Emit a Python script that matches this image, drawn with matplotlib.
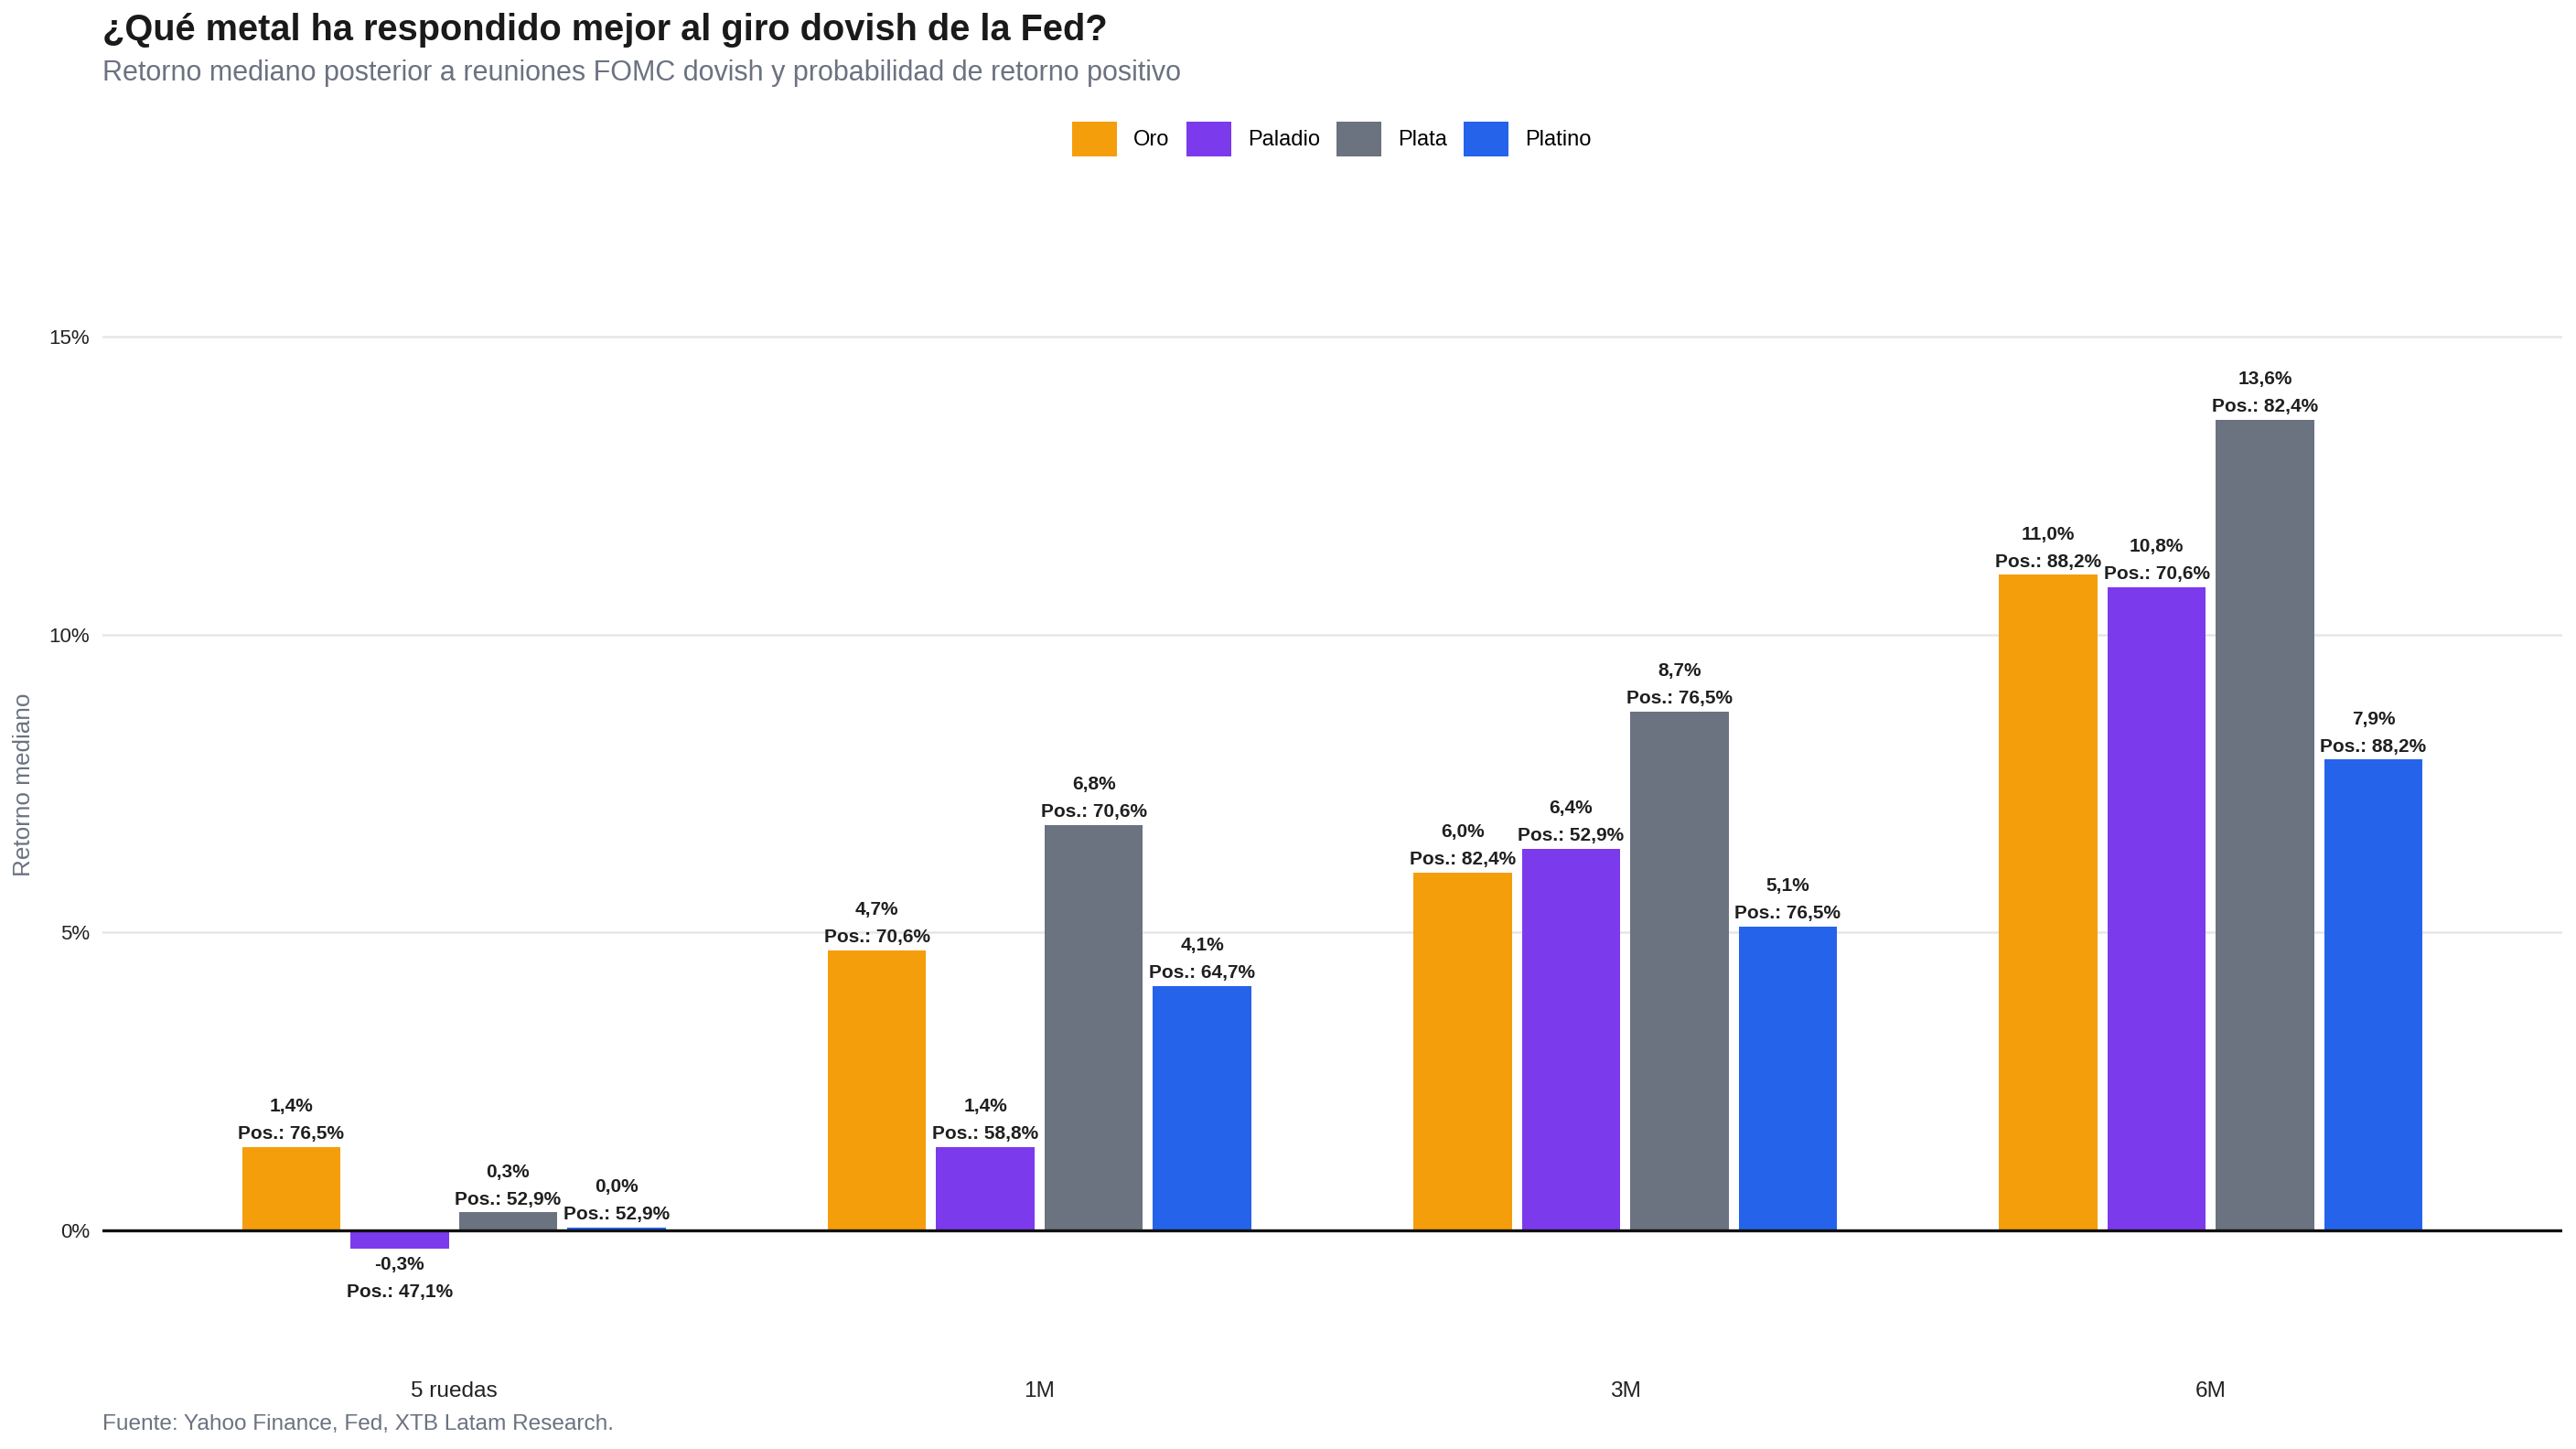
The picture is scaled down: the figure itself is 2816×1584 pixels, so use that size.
import numpy as np
import matplotlib.pyplot as plt

plt.rcParams['font.family'] = ['Liberation Sans', 'DejaVu Sans']

# data
horizons = ["5 ruedas", "1M", "3M", "6M"]
metals = ["Oro", "Paladio", "Plata", "Platino"]
colors = ["#F59E0B", "#7C3AED", "#6B7280", "#2563EB"]

oro = [1.4, 4.7, 6.0, 11.0]
paladio = [-0.3, 1.4, 6.4, 10.8]
plata = [0.3, 6.8, 8.7, 13.6]
platino = [0.04, 4.1, 5.1, 7.9]

oro_pos = [76.5, 70.6, 82.4, 88.2]
paladio_pos = [47.1, 58.8, 52.9, 70.6]
plata_pos = [52.9, 70.6, 76.5, 82.4]
platino_pos = [52.9, 64.7, 76.5, 88.2]

returns = [oro, paladio, plata, platino]
positives = [oro_pos, paladio_pos, plata_pos, platino_pos]

def pct(v):
    return f"{v:.1f}%".replace(".", ",")

W, H, DPI = 2816, 1584, 200
fig = plt.figure(figsize=(W / DPI, H / DPI), dpi=DPI)
ax = fig.add_axes([112 / W, 0.0522, (2801 - 112) / W, 0.8142])

x = np.arange(len(horizons))
slot = 0.185
bw = 0.168
label_col = "#1f1f1f"

for i, (name, col, vals, pos) in enumerate(zip(metals, colors, returns, positives)):
    xs = x + (i - 1.5) * slot
    ax.bar(xs, vals, width=bw, color=col, label=name, zorder=2)
    for xi, v, p in zip(xs, vals, pos):
        if v >= 0:
            off1, off2 = 14.0, 3.2
        else:
            off1, off2 = -8.3, -19.1
        ax.annotate(pct(v), (xi, v), xytext=(0, off1), textcoords="offset points",
                    ha="center", va="baseline", fontsize=7.5, fontweight="bold",
                    color=label_col)
        ax.annotate("Pos.: " + pct(p), (xi, v), xytext=(0, off2), textcoords="offset points",
                    ha="center", va="baseline", fontsize=7.5, fontweight="bold",
                    color=label_col)

ax.axhline(0, color="#111111", linewidth=1.2, zorder=3)
ax.set_xlim(-0.6, 3.6)
ax.set_ylim(-2.4, 17.4)
ax.set_yticks([0, 5, 10, 15])
ax.set_yticklabels(["0%", "5%", "10%", "15%"])
ax.set_xticks(x)
ax.set_xticklabels(horizons)
ax.grid(axis="y", color="#e6e6e6", linewidth=0.9, zorder=0)
ax.set_axisbelow(True)
for s in ax.spines.values():
    s.set_visible(False)
ax.tick_params(axis="y", length=0, pad=5, labelsize=8.0, labelcolor="#222222")
ax.tick_params(axis="x", length=0, pad=3, labelsize=8.8, labelcolor="#222222")

fig.text(26 / W, 1 - 858 / H, "Retorno mediano", rotation=90, ha="center", va="center",
         fontsize=9.4, color="#6b7280")

fig.text(112 / W, 1 - 44 / H, "¿Qué metal ha respondido mejor al giro dovish de la Fed?",
         fontsize=14.3, fontweight="bold", color="#1a1a1a", va="baseline")
fig.text(112 / W, 1 - 88 / H,
         "Retorno mediano posterior a reuniones FOMC dovish y probabilidad de retorno positivo",
         fontsize=11.0, color="#6b7280", va="baseline")
fig.text(112 / W, 1 - 1563 / H, "Fuente: Yahoo Finance, Fed, XTB Latam Research.",
         fontsize=8.8, color="#6b7280", va="baseline")

fig.legend(loc="center", bbox_to_anchor=(1456 / W, 1 - 152 / H), ncol=4, frameon=False,
           fontsize=8.5, handlelength=2.07, handleheight=2.07, handletextpad=0.76,
           columnspacing=0.78)

fig.savefig("out.png", dpi=DPI)
